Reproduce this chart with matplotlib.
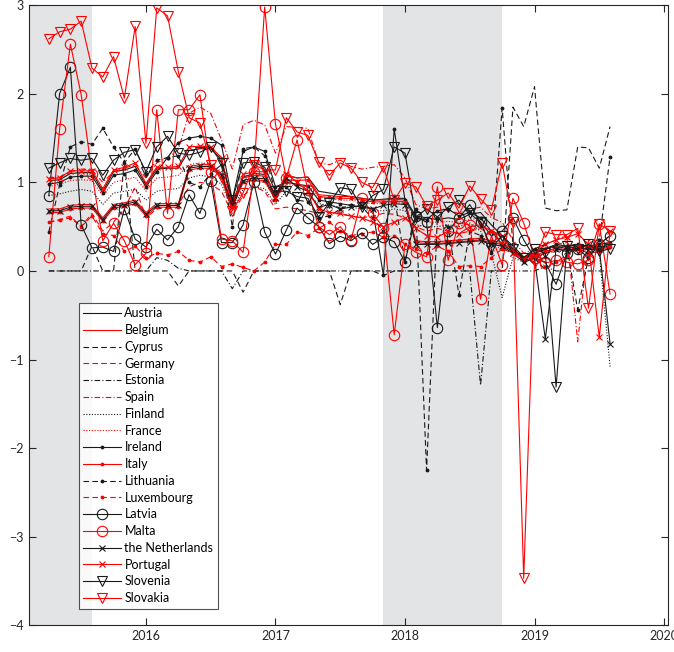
import numpy as np
import matplotlib
matplotlib.use("Agg")
import matplotlib.pyplot as plt

plt.rcParams['font.family'] = ['Lato', 'DejaVu Sans']

# monthly observations, Apr 2015 .. Aug 2019
dates = 2015.25 + np.arange(53) / 12.0

austria = [1.02, 1.03, 1.10, 1.11, 1.11, 0.90, 1.12, 1.14, 1.18, 0.97, 1.15, 1.16, 1.16, 1.36, 1.38, 1.38, 1.26, 0.78,
           1.06, 1.10, 1.09, 0.86, 1.08, 1.05, 1.06, 0.90, 0.88, 0.86, 0.84, 0.82, 0.80, 0.81, 0.82, 0.82, 0.62, 0.60,
           0.58, 0.60, 0.58, 0.64, 0.66, 0.52, 0.40, 0.28, 0.16, 0.20, 0.26, 0.28, 0.28, 0.30, 0.28, 0.28, 0.28]
belgium = [0.70, 0.70, 0.74, 0.75, 0.75, 0.60, 0.75, 0.77, 0.80, 0.66, 0.76, 0.76, 0.76, 1.18, 1.20, 1.20, 1.10, 0.76,
           1.05, 1.08, 1.07, 0.85, 1.08, 1.05, 1.06, 0.86, 0.85, 0.84, 0.84, 0.82, 0.80, 0.80, 0.81, 0.80, 0.32, 0.31,
           0.31, 0.32, 0.33, 0.34, 0.35, 0.32, 0.30, 0.22, 0.12, 0.15, 0.20, 0.24, 0.24, 0.26, 0.25, 0.25, 0.25]
cyprus = [0.00, 0.00, 0.00, 0.00, 0.28, 0.00, 0.00, 1.25, 0.00, 0.00, 0.00, 0.00, -0.17, 0.00, 0.00, 0.00, 0.00, 0.00,
          -0.24, 0.00, 0.00, 0.00, 0.00, 0.00, 0.00, 0.00, 0.00, -0.38, 0.00, 0.00, 0.00, -0.05, 0.00, 0.00, 0.00, 0.00,
          0.00, 0.00, 0.00, 0.00, 0.00, 0.00, 0.00, 1.85, 1.63, 2.08, 0.71, 0.68, 0.69, 1.40, 1.39, 1.16, 1.63]
germany = [0.55, 0.58, 0.62, 0.50, 0.65, 0.45, 0.55, 0.70, 0.95, 0.60, 0.70, 0.72, 0.75, 0.95, 1.00, 0.98, 0.90, 0.65,
           0.85, 0.95, 0.90, 0.70, 0.72, 0.70, 0.68, 0.65, 0.66, 0.64, 0.62, 0.60, 0.62, 0.65, 0.64, 0.60, 0.50, 0.45,
           0.48, 0.45, 0.42, 0.45, 0.48, 0.40, 0.35, 0.25, 0.15, 0.20, 0.25, 0.30, 0.32, 0.20, 0.28, 0.30, 0.32]
estonia = [0.00, 0.00, 0.00, 0.00, 0.00, 0.00, 0.00, 0.00, 0.00, 0.00, 0.15, 0.12, 0.03, 0.00, 0.00, 0.00, 0.00, -0.20,
           0.00, 0.00, 0.00, 0.00, 0.00, 0.00, 0.00, 0.00, 0.00, 0.00, 0.00, 0.00, 0.00, 0.00, 0.00, 0.00, 0.00, 0.00,
           0.00, 0.00, 0.00, 0.00, -1.29, 0.00, 0.00, 0.00, 0.00, 0.00, 0.05, 0.00, 0.00, 0.00, 0.00, 0.00, 0.00]
spain = [1.05, 1.06, 1.12, 1.15, 1.14, 1.00, 1.12, 1.16, 1.20, 1.05, 1.22, 1.28, 1.37, 1.78, 1.85, 1.78, 1.48, 1.15,
         1.65, 1.70, 1.65, 1.33, 1.63, 1.62, 1.61, 1.22, 1.20, 1.25, 1.18, 1.15, 1.17, 1.18, 1.20, 1.05, 0.75, 0.70,
         0.72, 0.68, 0.65, 0.70, 0.72, 0.60, 0.55, 0.35, 0.20, 0.25, 0.30, 0.35, 0.40, -0.80, 0.35, 0.30, 0.40]
finland = [0.85, 0.87, 0.90, 0.92, 0.90, 0.75, 0.88, 0.90, 0.92, 0.80, 0.90, 0.92, 0.93, 1.05, 1.08, 1.06, 0.98, 0.70,
           0.92, 0.95, 0.93, 0.75, 0.90, 0.88, 0.86, 0.76, 0.74, 0.72, 0.72, 0.70, 0.68, 0.68, 0.70, 0.68, 0.52, 0.50,
           0.50, 0.52, 0.50, 0.54, 0.45, 0.20, -0.30, 0.15, 0.10, 0.15, 0.20, 0.22, 0.22, 0.24, 0.22, 0.20, -1.08]
france = [0.95, 0.98, 1.02, 1.03, 1.02, 0.85, 1.00, 1.03, 1.06, 0.90, 1.05, 1.06, 1.08, 1.20, 1.22, 1.21, 1.12, 0.80,
          1.00, 1.02, 1.00, 0.82, 0.98, 0.96, 0.95, 0.84, 0.82, 0.80, 0.80, 0.78, 0.76, 0.76, 0.78, 0.76, 0.60, 0.55,
          0.55, 0.56, 0.55, 0.58, 0.60, 0.20, 0.30, 0.25, 0.15, 0.18, 0.22, 0.25, 0.25, 0.27, 0.26, 0.26, 0.28]
ireland = [0.98, 1.00, 1.06, 1.07, 1.07, 0.88, 1.08, 1.10, 1.14, 0.95, 1.12, 1.28, 1.45, 1.50, 1.52, 1.50, 1.42, 0.80,
           1.35, 1.40, 1.35, 0.95, 1.00, 0.98, 0.96, 0.80, 0.78, 0.76, 0.74, 0.72, 0.70, -0.05, 1.60, 0.80, 0.60, 0.58,
           0.68, 0.70, 0.62, 0.66, 0.60, 0.45, 0.30, 0.22, 0.14, 0.20, 0.24, 0.30, 0.28, 0.30, 0.28, 0.30, 0.32]
italy = [0.66, 0.66, 0.70, 0.71, 0.71, 0.56, 0.71, 0.73, 0.76, 0.62, 0.72, 0.72, 0.72, 1.14, 1.16, 1.16, 1.06, 0.72,
         1.00, 1.03, 1.02, 0.80, 1.03, 1.02, 1.03, 0.84, 0.83, 0.82, 0.82, 0.80, 0.78, 0.78, 0.79, 0.78, 0.34, 0.33,
         0.33, 0.34, 0.35, 0.36, 0.37, 0.34, 0.32, 0.24, 0.14, 0.17, 0.22, 0.26, 0.26, 0.28, 0.27, 0.27, 0.27]
lithuania = [0.44, 0.97, 1.40, 1.46, 1.43, 1.61, 1.40, 1.22, 1.38, 1.10, 1.25, 1.28, 1.30, 1.00, 0.95, 1.10, 1.20, 0.50,
             1.38, 1.40, 1.30, 0.90, 0.95, 0.80, 0.78, 0.60, 0.62, 0.70, 0.75, 0.72, 0.60, 0.45, 0.85, 0.10, 0.70, -2.25,
             0.60, 0.50, -0.27, 0.45, 0.40, 0.20, 1.84, 0.30, 0.10, 0.25, 0.30, 0.25, 0.28, -0.44, 0.15, 0.35, 1.29]
luxembourg = [0.55, 0.57, 0.60, 0.50, 0.62, 0.42, 0.40, 0.22, 0.28, 0.15, 0.20, 0.18, 0.22, 0.12, 0.10, 0.16, 0.05, 0.08,
              0.04, 0.00, 0.10, 0.30, 0.30, 0.44, 0.40, 0.48, 0.55, 0.45, 0.40, 0.42, 0.44, 0.38, 0.40, 0.30, 0.25, 0.20,
              0.28, 0.22, 0.05, 0.06, 0.05, 0.15, 0.25, 0.20, 0.12, 0.15, 0.05, 0.10, 0.18, 0.25, 0.20, 0.22, 0.30]
latvia = [0.85, 2.00, 2.30, 0.52, 0.26, 0.27, 0.22, 0.70, 0.36, 0.27, 0.47, 0.35, 0.50, 0.86, 0.65, 1.02, 0.32, 0.32,
          0.52, 1.00, 0.44, 0.19, 0.46, 0.71, 0.60, 0.50, 0.31, 0.39, 0.34, 0.43, 0.30, 0.38, 0.33, 0.10, 0.62, 0.55,
          -0.64, 0.45, 0.60, 0.75, 0.55, 0.40, 0.45, 0.60, 0.35, 0.15, 0.10, -0.15, 0.20, 0.25, 0.15, 0.30, 0.40]
malta = [0.16, 1.60, 2.56, 1.99, 1.10, 0.34, 0.54, 0.34, 0.07, 0.20, 1.82, 0.65, 1.82, 1.82, 1.99, 1.12, 0.36, 0.34,
         0.21, 1.12, 2.98, 1.66, 1.05, 1.48, 0.91, 0.50, 0.41, 0.50, 0.35, 0.82, 0.65, 0.49, -0.72, 0.30, 0.21, 0.16,
         0.95, 0.12, 0.54, 0.52, -0.32, 0.40, 0.07, 0.82, 0.54, 0.15, 0.09, 0.12, 0.10, 0.08, 0.12, 0.53, -0.26]
netherlands = [0.68, 0.68, 0.72, 0.73, 0.73, 0.58, 0.73, 0.75, 0.78, 0.64, 0.74, 0.74, 0.74, 1.16, 1.18, 1.18, 1.08, 0.74,
               1.02, 1.05, 1.04, 0.82, 1.05, 0.95, 0.90, 0.72, 0.75, 0.70, 0.72, 0.74, 0.70, 0.74, 0.76, 0.75, 0.30, 0.30,
               0.30, 0.31, 0.32, 0.33, 0.34, 0.30, 0.28, 0.20, 0.10, 0.14, -0.77, 0.25, 0.22, 0.26, 0.24, 0.25, -0.82]
portugal = [1.04, 1.05, 1.13, 1.13, 1.13, 0.93, 1.14, 1.17, 1.22, 0.99, 1.17, 1.17, 1.18, 1.40, 1.41, 1.40, 1.28, 0.72,
            1.09, 1.12, 1.12, 0.84, 1.10, 1.00, 0.90, 0.70, 0.66, 0.65, 0.62, 0.60, 0.55, 0.50, 0.55, 0.60, 0.48, 0.40,
            0.38, 0.45, 0.42, 0.50, 0.52, 0.45, 0.40, 0.20, 0.15, 0.20, 0.30, 0.35, 0.38, 0.42, 0.30, -0.75, 0.45]
slovenia = [1.16, 1.22, 1.27, 1.25, 1.27, 1.08, 1.25, 1.34, 1.37, 1.12, 1.40, 1.52, 1.33, 1.31, 1.34, 1.40, 1.22, 0.80,
            1.22, 1.23, 1.17, 0.90, 0.90, 0.84, 0.82, 0.61, 0.77, 0.94, 0.92, 0.72, 0.85, 0.92, 1.40, 1.33, 0.61, 0.70,
            0.61, 0.72, 0.80, 0.65, 0.55, 0.26, 0.40, 0.25, 0.15, 0.25, 0.20, -1.31, 0.28, 0.25, 0.30, 0.22, 0.25]
slovakia = [2.62, 2.70, 2.73, 2.82, 2.29, 2.19, 2.42, 1.95, 2.76, 1.44, 2.97, 2.88, 2.25, 1.73, 1.67, 1.20, 1.05, 0.68,
            0.88, 1.20, 1.14, 1.14, 1.73, 1.57, 1.53, 1.23, 1.08, 1.22, 1.16, 1.00, 0.94, 1.17, 0.80, 0.99, 0.95, 0.73,
            0.80, 0.88, 0.71, 0.96, 0.81, 0.69, 1.22, 0.55, -3.47, 0.10, 0.44, 0.41, 0.41, 0.48, -0.42, 0.53, 0.45]

# shaded periods
shade_spans = [(2015.0, 2015.58), (2017.83, 2018.75)]

RED = '#ff0000'
BLK = '#1a1a1a'
DASH = (0, (5, 3))
DASHDOT = (0, (5, 2, 1, 2))
DOT = (0, (1, 1.5))

series = [
    ("Austria", austria, BLK, '-', None),
    ("Belgium", belgium, RED, '-', None),
    ("Cyprus", cyprus, BLK, DASH, None),
    ("Germany", germany, RED, DASH, None),
    ("Estonia", estonia, BLK, DASHDOT, None),
    ("Spain", spain, RED, DASHDOT, None),
    ("Finland", finland, BLK, DOT, None),
    ("France", france, RED, DOT, None),
    ("Ireland", ireland, BLK, '-', '.'),
    ("Italy", italy, RED, '-', '.'),
    ("Lithuania", lithuania, BLK, DASH, '.'),
    ("Luxembourg", luxembourg, RED, DASH, '.'),
    ("Latvia", latvia, BLK, '-', 'o'),
    ("Malta", malta, RED, '-', 'o'),
    ("the Netherlands", netherlands, BLK, '-', 'x'),
    ("Portugal", portugal, RED, '-', 'x'),
    ("Slovenia", slovenia, BLK, '-', 'v'),
    ("Slovakia", slovakia, RED, '-', 'v'),
]

fig = plt.figure(figsize=(6.74, 6.52), dpi=100)
ax = fig.add_axes([0.043, 0.041, 0.948, 0.951])

for x0, x1 in shade_spans:
    ax.axvspan(x0, x1, color='#e3e4e6', lw=0, zorder=0)

for name, vals, col, ls, mk in series:
    kw = dict(color=col, linestyle=ls, linewidth=0.8, label=name)
    if mk == '.':
        kw.update(marker='.', markersize=3.5)
    elif mk == 'x':
        kw.update(marker='x', markersize=5, markeredgewidth=0.8)
    elif mk in ('o', 'v'):
        kw.update(marker=mk, markersize=7.5, markerfacecolor='none', markeredgewidth=0.8)
    ax.plot(dates, vals, **kw)

ax.set_xlim(2015.097, 2020.03)
ax.set_ylim(-4, 3)
ax.set_xticks([2016, 2017, 2018, 2019, 2020])
ax.set_xticklabels(['2016', '2017', '2018', '2019', '2020'])
ax.set_yticks(range(-4, 4))
ax.tick_params(direction='in', top=True, right=True, length=5, width=0.8,
               labelsize=9, labelcolor='#262626', color='#262626')
for sp in ax.spines.values():
    sp.set_linewidth(0.8)
    sp.set_color('#262626')

leg = ax.legend(loc='lower left', bbox_to_anchor=(0.078, 0.027), borderaxespad=0,
                fontsize=9, frameon=True, fancybox=False, edgecolor='#262626',
                handlelength=3.0, handletextpad=0.3, labelspacing=0.38, borderpad=0.35)
leg.get_frame().set_linewidth(0.8)

fig.savefig("out.png", dpi=100)
